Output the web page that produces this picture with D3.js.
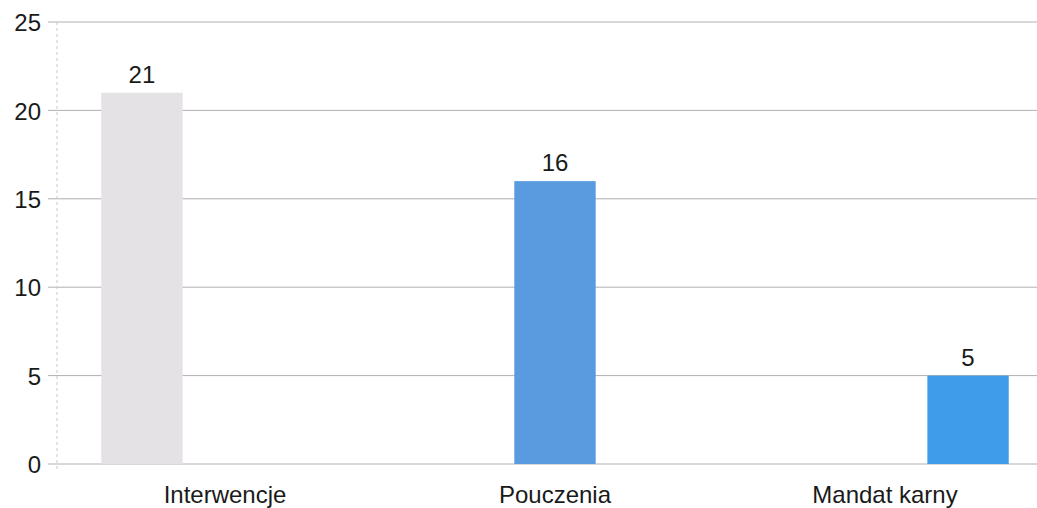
<!DOCTYPE html>
<html>
<head>
<meta charset="utf-8">
<script src="https://cdn.jsdelivr.net/npm/d3@7"></script>
<style>
  body { margin: 0; background: #fff; }
  text { font-family: "Liberation Sans", Arial, sans-serif; fill: #1a1a1a; }
</style>
</head>
<body>
<div id="chart"></div>
<script>
(function() {

var categories = ["Interwencje", "Pouczenia", "Mandat karny"];
var values = [21, 16, 5];
var barColors = ["#e5e2e5", "#5a9be0", "#3f9ceb"];
var yTicks = [0, 5, 10, 15, 20, 25];

var width = 1037,
    height = 508;

var svg = d3.select("#chart").append("svg")
    .attr("width", width)
    .attr("height", height);

// each category is its own series, so bars sit in different slots of the group
var x0 = d3.scaleBand()
    .domain(categories)
    .range([60, 1050])
    .paddingInner(0.24)
    .paddingOuter(0.12);

var x1 = d3.scaleBand()
    .domain(d3.range(categories.length))
    .range([0, x0.bandwidth()])
    .padding(0.02);

var y = d3.scaleLinear()
    .domain([0, 25])
    .range([464, 22]);

// gridlines
svg.append("g")
  .selectAll("line")
  .data(yTicks)
  .enter().append("line")
    .attr("x1", 48)
    .attr("x2", width)
    .attr("y1", function(d) { return y(d); })
    .attr("y2", function(d) { return y(d); })
    .style("stroke", "#b0b0b0")
    .style("stroke-width", 1);

// faint dashed axis line
svg.append("line")
  .attr("x1", 57).attr("x2", 57)
  .attr("y1", y(25)).attr("y2", y(0) + 6)
  .style("stroke", "#c8c8c8")
  .style("stroke-dasharray", "3,3");

var yAxis = svg.append("g")
  .attr("transform", "translate(41,0)")
  .call(d3.axisLeft(y).tickValues(yTicks).tickSize(0).tickPadding(0));
yAxis.select(".domain").remove();
yAxis.selectAll("text")
  .style("font-size", "24px")
  .attr("dy", "0.36em");

svg.append("g")
  .selectAll("rect")
  .data(values)
  .enter().append("rect")
    .attr("x", function(d, i) { return x0(categories[i]) + x1(i); })
    .attr("y", function(d) { return y(d); })
    .attr("width", x1.bandwidth())
    .attr("height", function(d) { return y(0) - y(d); })
    .style("fill", function(d, i) { return barColors[i]; });

svg.append("g")
  .selectAll("text")
  .data(values)
  .enter().append("text")
    .attr("x", function(d, i) { return x0(categories[i]) + x1(i) + x1.bandwidth() / 2; })
    .attr("y", function(d) { return y(d) - 10; })
    .attr("text-anchor", "middle")
    .style("font-size", "24px")
    .text(function(d) { return d; });

var xAxis = svg.append("g")
  .attr("transform", "translate(0," + y(0) + ")")
  .call(d3.axisBottom(x0).tickSize(0).tickPadding(22));
xAxis.select(".domain").remove();
xAxis.selectAll("text")
  .style("font-size", "24px");

})()
</script>
</body>
</html>
